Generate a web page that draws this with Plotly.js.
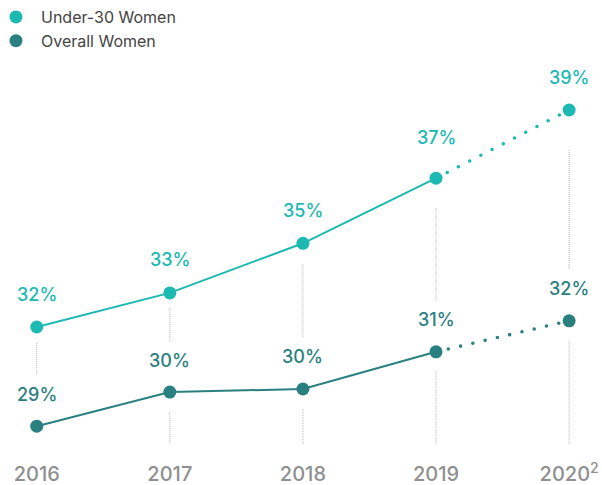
<!DOCTYPE html>
<html>
<head>
<meta charset="utf-8">
<script src="https://cdn.plot.ly/plotly-3.0.1.min.js"></script>
<style>
html,body{margin:0;padding:0;background:#fff;}
#chart{width:602px;height:485px;}
path.js-line{stroke-linecap:round;}
</style>
</head>
<body>
<div id="chart"></div>
<script>
// ---- data ----
var years = [2016, 2017, 2018, 2019, 2020];
var yearLabels = ['2016', '2017', '2018', '2019', '2020<sup>2</sup>'];
var seriesNames = ['Under-30 Women', 'Overall Women'];
var under30 = [32.0, 33.1, 34.7, 36.8, 39.0];
var overall = [28.8, 29.9, 30.0, 31.2, 32.2];
var under30Labels = ['32%', '33%', '35%', '37%', '39%'];
var overallLabels = ['29%', '30%', '30%', '31%', '32%'];
var projectedFrom = 3; // index where the dotted projection starts

// ---- styles ----
var cUnder = '#1bb9b2';
var cOver = '#2a8080';
var yRange = [28.032, 40.613];
var marginT = 60, marginB = 35;
var plotH = 485 - marginT - marginB;
var pxPerUnit = plotH / (yRange[1] - yRange[0]);
var topGap = [16, 15, 21, 30, 40];

function traceSet(vals, color) {
  return [
    {x: years.slice(0, projectedFrom + 1), y: vals.slice(0, projectedFrom + 1), mode: 'lines',
     line: {color: color, width: 2}, showlegend: false, hoverinfo: 'skip'},
    {x: years.slice(projectedFrom), y: vals.slice(projectedFrom), mode: 'lines',
     line: {color: color, width: 3.6, dash: '0px,12.6px'}, showlegend: false, hoverinfo: 'skip'},
    {x: years, y: vals, mode: 'markers', marker: {color: color, size: 13},
     showlegend: false}
  ];
}

var data = [].concat(traceSet(under30, cUnder), traceSet(overall, cOver));
data.push({x: [null], y: [null], mode: 'markers', name: seriesNames[0], marker: {color: cUnder, size: 13}});
data.push({x: [null], y: [null], mode: 'markers', name: seriesNames[1], marker: {color: cOver, size: 13}});

var annotations = [];
years.forEach(function (yr, i) {
  annotations.push({x: yr, y: under30[i], text: under30Labels[i], showarrow: false,
    yshift: (i === 3 ? 41 : 33), font: {family: 'Inter, sans-serif', size: 18, color: cUnder, weight: 500}});
  annotations.push({x: yr, y: overall[i], text: overallLabels[i], showarrow: false,
    yshift: 32, font: {family: 'Inter, sans-serif', size: 18, color: cOver, weight: 500}});
});

var shapes = [];
var bottomVal = yRange[0] + 6 / pxPerUnit;
years.forEach(function (yr, i) {
  var a = under30[i] - topGap[i] / pxPerUnit;
  var b = overall[i] + 51 / pxPerUnit;
  if (a > b) shapes.push({type: 'line', xref: 'x', yref: 'y', x0: yr, x1: yr, y0: a, y1: b,
    line: {color: '#b5b5b5', width: 1, dash: '1px,1px'}});
  var c = overall[i] - 20 / pxPerUnit;
  if (c > bottomVal) shapes.push({type: 'line', xref: 'x', yref: 'y', x0: yr, x1: yr, y0: c, y1: bottomVal,
    line: {color: '#b5b5b5', width: 1, dash: '1px,1px'}});
});

var layout = {
  width: 602, height: 485,
  margin: {l: 0, r: 0, t: marginT, b: marginB, autoexpand: false},
  paper_bgcolor: '#fff', plot_bgcolor: '#fff',
  font: {family: 'Inter, sans-serif'},
  xaxis: {type: 'linear', range: [2015.724, 2020.247], tickvals: years, ticktext: yearLabels,
    showgrid: false, zeroline: false, showline: false, ticks: '',
    ticklabelstandoff: 10, ticklabeloverflow: 'allow', automargin: false,
    tickfont: {family: 'Inter, sans-serif', size: 20, color: '#8f8f8f', weight: 500}},
  yaxis: {type: 'linear', range: yRange, visible: false, showgrid: false, zeroline: false, automargin: false},
  showlegend: true,
  legend: {xref: 'paper', yref: 'container', x: -0.015, y: 1, xanchor: 'left', yanchor: 'top',
    itemwidth: 40,
    font: {family: 'Inter, sans-serif', size: 16, color: '#444'}, bgcolor: 'rgba(0,0,0,0)',
    tracegroupgap: 0},
  annotations: annotations,
  shapes: shapes
};

Plotly.newPlot('chart', data, layout, {displayModeBar: false, staticPlot: true});
</script>
</body>
</html>
